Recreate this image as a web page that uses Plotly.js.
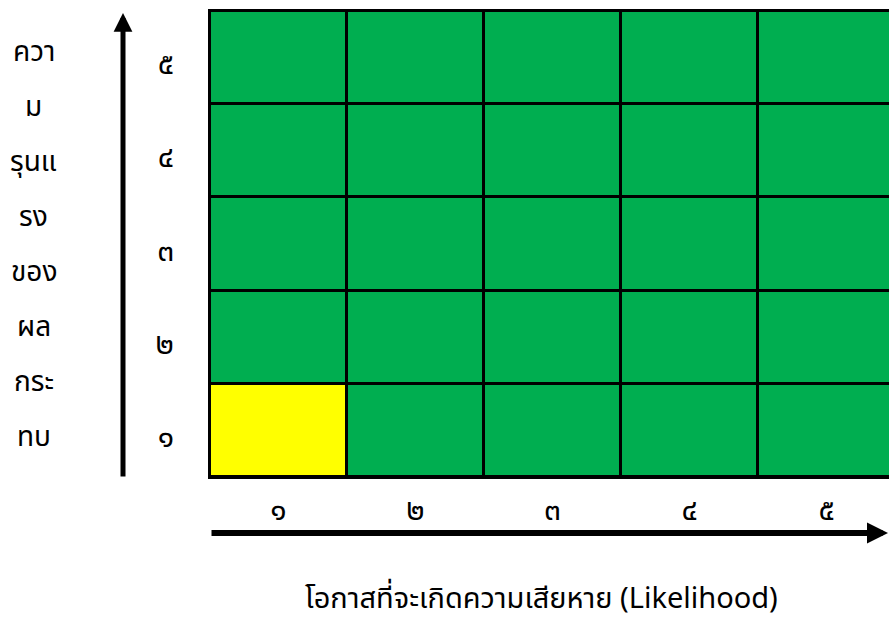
<!DOCTYPE html>
<html>
<head>
<meta charset="utf-8">
<script src="https://cdn.plot.ly/plotly-3.0.1.min.js"></script>
<style>html,body{margin:0;padding:0;background:#fff;}#chart{width:889px;height:619px;}</style>
</head>
<body>
<div id="chart"></div>
<script>
// Likelihood (x) and impact (y) levels
const likelihood = [1, 2, 3, 4, 5];
const impact = [1, 2, 3, 4, 5];
const tickLabels = ['๑', '๒', '๓', '๔', '๕'];
// cell colour class: 1 = yellow, 0 = green (rows = impact 1..5)
const zone = [
  [1, 0, 0, 0, 0],
  [0, 0, 0, 0, 0],
  [0, 0, 0, 0, 0],
  [0, 0, 0, 0, 0],
  [0, 0, 0, 0, 0]
];
const xTitle = 'โอกาสที่จะเกิดความเสียหาย (Likelihood)';
const yTitleLines = ['ควา', 'ม', 'รุนแ', 'รง', 'ของ', 'ผล', 'กระ', 'ทบ'];

const FONT = 'Noto Sans, Noto Sans Thai, sans-serif';
const W = 889, H = 619;
const L = 210, T = 11, B = 142;
const plotW = W - L, plotH = H - T - B;
const px = v => (v - L) / plotW;
const py = v => (H - B - v) / plotH;

const trace = {
  type: 'heatmap',
  x: likelihood,
  y: impact,
  z: zone,
  zmin: 0, zmax: 1,
  colorscale: [[0, '#00AE50'], [1, '#FFFF00']],
  showscale: false,
  xgap: 3, ygap: 3,
  hoverinfo: 'skip'
};

const annotations = [];
yTitleLines.forEach((s, i) => {
  annotations.push({
    xref: 'paper', yref: 'paper', x: px(34), y: py(50 + 55 * i),
    text: s, showarrow: false, xanchor: 'center', yanchor: 'middle',
    font: {family: FONT, size: 28, color: '#000'}
  });
});
annotations.push({
  xref: 'paper', yref: 'paper', x: px(541), y: py(597),
  text: xTitle, showarrow: false, xanchor: 'center', yanchor: 'middle',
  font: {family: FONT, size: 29, color: '#000'}
});
// axis arrows
annotations.push({
  xref: 'paper', yref: 'paper', x: px(898), y: py(533), ax: -(898 - L), ay: 0,
  axref: 'pixel', ayref: 'pixel', text: '', showarrow: true,
  arrowhead: 2, arrowsize: 0.7, arrowwidth: 6, arrowcolor: '#000', standoff: 0
});
annotations.push({
  xref: 'paper', yref: 'paper', x: px(123), y: py(13), ax: 0, ay: 465,
  axref: 'pixel', ayref: 'pixel', text: '', showarrow: true,
  arrowhead: 2, arrowsize: 0.75, arrowwidth: 5, arrowcolor: '#000', standoff: 0
});

const layout = {
  width: W, height: H,
  margin: {l: L, r: 0, t: T, b: B, pad: 0},
  paper_bgcolor: '#fff',
  plot_bgcolor: '#000',
  showlegend: false,
  font: {family: FONT, color: '#000'},
  xaxis: {
    range: [0.5, 0.5 + plotW / 137],
    tickvals: likelihood, ticktext: tickLabels,
    ticks: 'outside', ticklen: 5, tickcolor: 'rgba(0,0,0,0)',
    tickfont: {family: FONT, size: 30, color: '#000'},
    showgrid: false, zeroline: false,
    showline: true, mirror: true, linecolor: '#000', linewidth: 2,
    fixedrange: true
  },
  yaxis: {
    range: [0.5, 5.5],
    tickvals: impact, ticktext: tickLabels,
    ticks: 'outside', ticklen: 28, tickcolor: 'rgba(0,0,0,0)',
    ticklabelshift: 6,
    tickfont: {family: FONT, size: 30, color: '#000'},
    showgrid: false, zeroline: false,
    showline: true, mirror: false, linecolor: '#000', linewidth: 2,
    fixedrange: true
  },
  annotations: annotations
};

Plotly.newPlot('chart', [trace], layout, {displayModeBar: false, staticPlot: true});
</script>
</body>
</html>
